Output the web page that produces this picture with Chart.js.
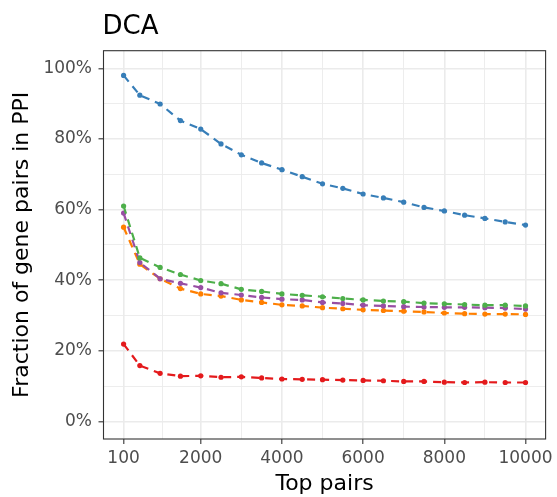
<!DOCTYPE html>
<html>
<head>
<meta charset="utf-8">
<script src="https://cdn.jsdelivr.net/npm/chart.js@4/dist/chart.umd.min.js"></script>
<style>
  html, body { margin: 0; padding: 0; background: #fff; }
  #wrap { width: 557px; height: 497px; }
</style>
</head>
<body>
<div id="wrap"><canvas id="dcaChart"></canvas></div>
<script>
// --- data (fraction in %) ---
const topPairs = [100, 500, 1000, 1500, 2000, 2500, 3000, 3500, 4000, 4500, 5000,
                  5500, 6000, 6500, 7000, 7500, 8000, 8500, 9000, 9500, 10000];
const blueFrac   = [98.0, 92.4, 89.9, 85.2, 82.8, 78.6, 75.5, 73.2, 71.3, 69.3, 67.3,
                    66.0, 64.4, 63.3, 62.1, 60.6, 59.6, 58.4, 57.5, 56.5, 55.6];
const greenFrac  = [61.0, 46.3, 43.6, 41.6, 39.9, 39.0, 37.4, 36.8, 36.1, 35.7, 35.3,
                    34.8, 34.4, 34.1, 33.9, 33.5, 33.3, 33.1, 32.9, 32.9, 32.7];
const purpleFrac = [59.0, 45.0, 40.4, 39.1, 37.9, 36.4, 35.8, 35.1, 34.6, 34.4, 33.7,
                    33.4, 32.9, 32.7, 32.5, 32.4, 32.3, 32.3, 32.2, 32.1, 31.8];
const orangeFrac = [55.0, 44.5, 40.4, 37.6, 36.1, 35.5, 34.4, 33.7, 33.0, 32.7, 32.2,
                    31.9, 31.6, 31.4, 31.2, 31.0, 30.7, 30.5, 30.4, 30.4, 30.3];
const redFrac    = [21.9, 15.8, 13.6, 12.8, 12.9, 12.5, 12.6, 12.3, 12.0, 11.9, 11.8,
                    11.7, 11.6, 11.5, 11.3, 11.3, 11.1, 11.0, 11.1, 11.0, 11.0];

const xMajorTicks = [100, 2000, 4000, 6000, 8000, 10000];
const xMinorTicks = [1050, 3000, 5000, 7000, 9000];
const yMajorTicks = [0, 20, 40, 60, 80, 100];
const yMinorTicks = [10, 30, 50, 70, 90];

const FONT = "'DejaVu Sans', sans-serif";

function series(values, color) {
    return {
        data: topPairs.map((x, i) => ({ x: x, y: values[i] })),
        borderColor: color,
        backgroundColor: color,
        pointBackgroundColor: color,
        borderWidth: 2.2,
        borderDash: [8, 6],
        pointRadius: 2.6,
        pointBorderWidth: 0,
        pointHoverRadius: 2.6,
        tension: 0,
        fill: false
    };
}

// grid helpers: major vs minor lines, tick marks only on majors
function gridFor(majors) {
    return {
        color: '#EBEBEB',
        lineWidth: ctx => majors.includes(ctx.tick.value) ? 1.6 : 0.9,
        tickColor: ctx => majors.includes(ctx.tick.value) ? '#333333' : 'rgba(0,0,0,0)',
        tickWidth: 1.1,
        tickLength: 5,
        drawTicks: true
    };
}

// panel border + plot title
const panelPlugin = {
    id: 'panel',
    afterDatasetsDraw(chart) {
        const { ctx, chartArea: a } = chart;
        ctx.save();
        ctx.strokeStyle = '#333333';
        ctx.lineWidth = 1.1;
        ctx.strokeRect(a.left, a.top, a.right - a.left, a.bottom - a.top);
        ctx.restore();
    },
    afterDraw(chart) {
        const { ctx, chartArea: a } = chart;
        ctx.save();
        ctx.fillStyle = '#000';
        ctx.font = "26px " + FONT;
        ctx.textBaseline = 'alphabetic';
        ctx.textAlign = 'left';
        ctx.fillText('DCA', a.left - 1, 34);
        ctx.restore();
    }
};

new Chart(document.getElementById('dcaChart'), {
    type: 'line',
    data: {
        datasets: [
            series(blueFrac, '#377EB8'),
            series(greenFrac, '#4DAF4A'),
            series(purpleFrac, '#984EA3'),
            series(orangeFrac, '#FF7F00'),
            series(redFrac, '#E41A1C')
        ]
    },
    options: {
        responsive: true,
        maintainAspectRatio: false,
        animation: false,
        layout: { padding: { top: 50.7, right: 10, left: 0, bottom: 0 } },
        plugins: {
            legend: { display: false },
            tooltip: { enabled: false },
            title: { display: false }
        },
        scales: {
            x: {
                type: 'linear',
                min: -395,
                max: 10495,
                grid: gridFor(xMajorTicks),
                border: { display: false },
                afterBuildTicks: s => {
                    s.ticks = xMajorTicks.concat(xMinorTicks).sort((a, b) => a - b).map(v => ({ value: v }));
                },
                afterFit: s => { s.height = 58; },
                ticks: {
                    autoSkip: false,
                    maxRotation: 0,
                    padding: 4,
                    color: '#4D4D4D',
                    font: { family: FONT, size: 17 },
                    callback: v => xMajorTicks.includes(v) ? String(v) : ''
                },
                title: {
                    display: true,
                    text: 'Top pairs',
                    color: '#000',
                    font: { family: FONT, size: 22 },
                    padding: { top: 0, bottom: 0 }
                }
            },
            y: {
                type: 'linear',
                min: -5,
                max: 105,
                grid: gridFor(yMajorTicks),
                border: { display: false },
                afterBuildTicks: s => {
                    s.ticks = yMajorTicks.concat(yMinorTicks).sort((a, b) => a - b).map(v => ({ value: v }));
                },
                afterFit: s => { s.width = 103.5; },
                ticks: {
                    autoSkip: false,
                    padding: 6.5,
                    color: '#4D4D4D',
                    font: { family: FONT, size: 17 },
                    callback: v => yMajorTicks.includes(v) ? v + '%' : ''
                },
                title: {
                    display: true,
                    text: 'Fraction of gene pairs in PPI',
                    color: '#000',
                    font: { family: FONT, size: 22 },
                    padding: { top: 8.8, bottom: 0 }
                }
            }
        }
    },
    plugins: [panelPlugin]
});
</script>
</body>
</html>
